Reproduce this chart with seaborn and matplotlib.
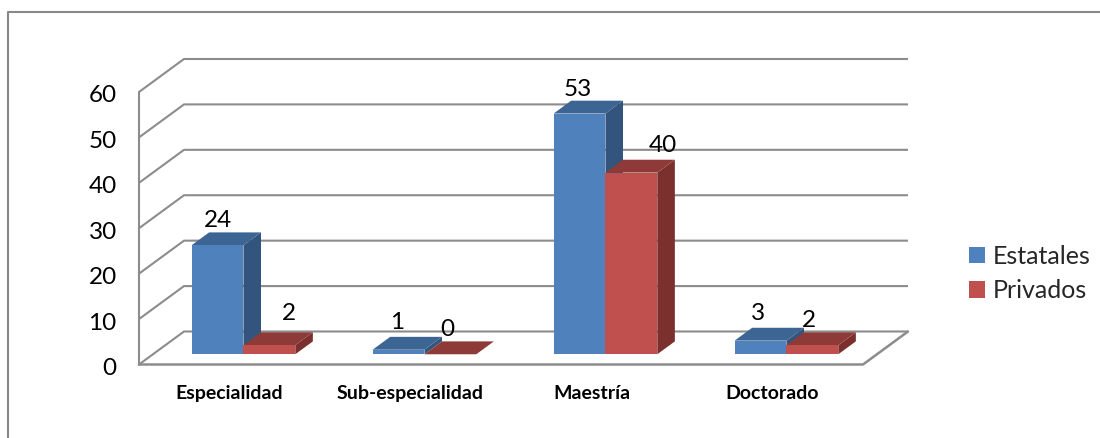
# Recreates the 3D-style clustered column chart (Excel look) with seaborn
import pandas as pd
import matplotlib.pyplot as plt
import seaborn as sns
from matplotlib.lines import Line2D
from matplotlib.patches import Polygon
from matplotlib.transforms import Affine2D

niveles = ["Especialidad", "Sub-especialidad", "Maestría", "Doctorado"]
estatales = [24, 1, 53, 3]
privados = [2, 0, 40, 2]
y_ticks = [0, 10, 20, 30, 40, 50, 60]

colors = {"Estatales": "#4F81BD", "Privados": "#C0504D"}
top_colors = {"Estatales": "#3D6593", "Privados": "#8E3A38"}
side_colors = {"Estatales": "#33547C", "Privados": "#7C302E"}
grid_color = "#8C8C8C"

# hand placed label offsets in pixels from the top of each bar
label_nudge = {
    "Estatales": [(0, 25), (-1, 27), (-2, 24), (-3, 27)],
    "Privados": [(20, 32), (-3, 25), (31, 27), (-3, 25)],
}

df = pd.DataFrame({
    "nivel": niveles * 2,
    "tipo": ["Estatales"] * 4 + ["Privados"] * 4,
    "n": estatales + privados,
})

sns.set_theme(style="white")
plt.rcParams["font.family"] = ["Lato", "DejaVu Sans"]

W, H = 1100, 438
fig = plt.figure(figsize=(W / 100, H / 100), dpi=100)
ax = fig.add_axes([139 / W, (H - 364.5) / H, 724 / W, 272.5 / H])

sns.barplot(data=df, x="nivel", y="n", hue="tipo", palette=colors, width=0.573,
            gap=0, saturation=1, linewidth=0, ax=ax)
ax.set_xlim(-0.5, 3.5)
ax.set_ylim(0, 60)
ax.set_yticks(y_ticks)
ax.set_xlabel("")
ax.set_ylabel("")
sns.despine(ax=ax, left=True, bottom=True)

# depth of the chart floor, in data units (45 px across, 33 px up)
DX = 45 / 181
DY = 33 / 4.54
BAR_FRONT = 0.31
BAR_BACK = 0.70

# walls and floor
for v in y_ticks:
    ax.plot([-0.5, -0.5 + DX, 3.5 + DX], [v, v + DY, v + DY], color=grid_color,
            lw=1.5, clip_on=False, zorder=1, solid_capstyle="butt")
ax.plot([-0.5, -0.5], [0, 60], color=grid_color, lw=1.5, clip_on=False, zorder=1)
ax.plot([-0.5, 3.5, 3.5 + DX], [0, 0, DY], color=grid_color, lw=1.8, clip_on=False, zorder=1)

# bars: seaborn gives the front faces, the top and side are built on them
shift = Affine2D().translate(BAR_FRONT * DX, BAR_FRONT * DY) + ax.transData
d = BAR_BACK - BAR_FRONT
order = 0
for i in range(len(niveles)):
    for tipo, container in zip(colors, ax.containers):
        bar = container[i]
        x0, x1, h = bar.get_x(), bar.get_x() + bar.get_width(), bar.get_height()
        side = [(x1, 0), (x1 + d * DX, d * DY), (x1 + d * DX, h + d * DY), (x1, h)]
        top = [(x0, h), (x1, h), (x1 + d * DX, h + d * DY), (x0 + d * DX, h + d * DY)]
        ax.add_patch(Polygon(side, color=side_colors[tipo], lw=0, transform=shift,
                             clip_on=False, zorder=2 + order))
        ax.add_patch(Polygon(top, color=top_colors[tipo], lw=0, transform=shift,
                             clip_on=False, zorder=2 + order))
        bar.set_transform(shift)
        bar.set_clip_on(False)
        bar.set_zorder(2 + order + 0.5)
        order += 1

        dx, dy = label_nudge[tipo][i]
        ax.annotate(f"{h:.0f}", xy=((x0 + x1) / 2, h), xycoords=shift, xytext=(dx, dy),
                    textcoords="offset pixels", ha="center", va="center",
                    fontsize=17.5, color="black", zorder=50, annotation_clip=False)

ax.tick_params(axis="y", length=0, pad=16, labelsize=17.5, labelcolor="black")
ax.tick_params(axis="x", length=0, pad=15, labelsize=14, labelcolor="black")
for label in ax.get_xticklabels():
    label.set_fontweight("bold")
for label in ax.get_yticklabels():
    label.set_transform(label.get_transform() + Affine2D().translate(0, -2))

ax.legend(loc="upper left", bbox_to_anchor=(969 / W, (H - 245) / H), bbox_transform=fig.transFigure,
          frameon=False, fontsize=18, handlelength=0.64, handleheight=0.64,
          handletextpad=0.32, labelspacing=0.46, borderpad=0, borderaxespad=0)

# chart area border, only left and top show in the picture
fig.add_artist(Line2D([8 / W, 8 / W, 1], [0, (H - 12) / H, (H - 12) / H], color="#888888", lw=1.5))

fig.savefig("out.png", dpi=100)
